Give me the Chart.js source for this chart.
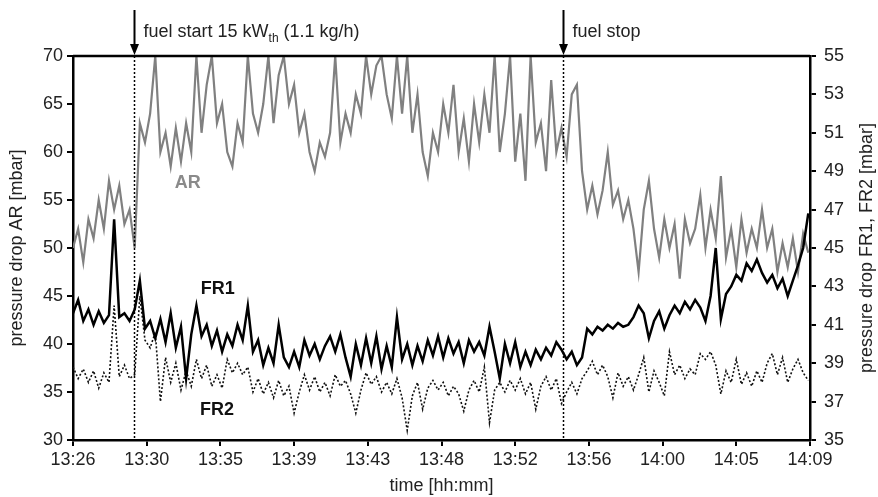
<!DOCTYPE html>
<html>
<head>
<meta charset="utf-8">
<script src="https://cdn.jsdelivr.net/npm/chart.js@4/dist/chart.umd.min.js"></script>
<style>
  html, body { margin: 0; padding: 0; background: #fff; }
  #wrap { width: 878px; height: 497px; }
</style>
</head>
<body>
<div id="wrap"><canvas id="pressureChart" width="878" height="497"></canvas></div>
<script>
// samples every 0.3 min starting at 13:26
const sampleStep = 0.3;

const tickMinutes = [0, 4.3, 8.6, 12.9, 17.2, 21.5, 25.8, 30.1, 34.4, 38.7, 43];
const tickLabels = ['13:26', '13:30', '13:35', '13:39', '13:43', '13:48', '13:52', '13:56', '14:00', '14:05', '14:09'];

// pressure drop AR [mbar], left axis
const arValues = [
  50, 52, 48.5, 53, 51, 55, 52, 57, 54, 56.5, 52.5, 54, 50, 63, 61, 64, 70, 60, 62, 58.5,
  62.5, 59, 63, 60, 70, 62, 67, 70, 63, 65, 60, 58.5, 63, 61, 70, 64, 62, 65, 70, 63,
  68, 70, 65, 67, 62, 64, 60, 58, 61, 59.5, 62, 70, 61, 64, 62, 66, 64, 70, 66, 69,
  70, 66, 63.5, 70, 64, 70, 62, 66, 60, 57.5, 62, 60, 65, 62, 67, 60, 63.5, 59, 65, 61,
  66, 62, 70, 60, 64, 70, 59, 64, 57, 70, 61, 63, 58, 67.5, 60, 62.5, 59.5, 66, 67, 58,
  54, 56.5, 53.5, 56, 60, 54.5, 56, 53, 55, 52, 47.5, 54, 57, 52, 49, 53, 50, 52.5, 46.8, 53,
  50.5, 52, 55.5, 50, 54, 51, 57.5, 49, 52, 48, 53, 49.5, 52, 50, 54, 50, 52, 47.5, 50.5, 48,
  51, 47.5, 51.5, 49.5
];

// pressure drop FR1 [mbar], right axis
const fr1Values = [
  41.6, 42.3, 41.2, 41.8, 41.0, 41.7, 41.1, 41.5, 46.5, 41.4, 41.6, 41.2, 41.8, 43.3, 40.8, 41.2, 40.3, 41.3, 40.1, 41.6,
  39.8, 40.9, 38.2, 40.5, 42.0, 40.4, 41.0, 39.9, 40.7, 39.6, 40.5, 39.9, 41.0, 40.2, 42.0, 39.6, 40.2, 38.9, 39.8, 39.0,
  41.0, 39.3, 38.8, 39.6, 38.8, 40.2, 39.4, 40.0, 39.2, 39.9, 40.4, 39.6, 40.5, 39.3, 38.3, 40.0, 38.9, 40.3, 39.0, 40.4,
  38.7, 39.9, 38.8, 41.4, 39.2, 40.0, 38.9, 39.9, 39.1, 40.2, 39.4, 40.4, 39.3, 40.3, 39.5, 40.1, 39.0, 40.2, 39.6, 40.1,
  39.4, 40.9, 39.6, 38.2, 40.0, 39.0, 40.1, 38.8, 39.6, 38.9, 39.7, 39.2, 39.8, 39.4, 40.1, 39.7, 39.2, 39.6, 38.9, 39.3,
  40.8, 40.5, 40.9, 40.7, 41.0, 40.8, 41.1, 40.9, 41.0, 41.4, 42.0, 41.6, 40.3, 41.2, 41.7, 40.8, 41.5, 42.0, 41.6, 42.2,
  41.8, 42.3, 41.9, 41.2, 42.5, 45.0, 41.3, 42.6, 43.0, 43.6, 43.3, 44.2, 43.8, 44.4, 43.7, 43.2, 43.6, 42.9, 43.4, 42.5,
  43.3, 44.1, 45.0, 46.8
];

// pressure drop FR2 [mbar], right axis
const fr2Values = [
  38.8, 38.2, 38.7, 38.0, 38.6, 37.7, 38.5, 38.0, 42.0, 38.3, 38.9, 38.2, 38.4, 42.5, 40.2, 39.8, 40.6, 37.0, 39.3, 38.0,
  39.0, 37.6, 38.6, 37.8, 39.2, 38.2, 38.9, 37.8, 38.4, 37.7, 39.2, 38.5, 39.0, 38.4, 38.8, 37.5, 38.2, 37.4, 38.0, 37.2,
  38.1, 37.3, 37.8, 36.4, 37.5, 38.4, 37.6, 38.3, 37.5, 38.0, 37.3, 38.4, 37.8, 38.1, 37.4, 36.4, 37.6, 38.5, 37.9, 38.3,
  37.5, 38.0, 37.4, 38.2, 37.2, 35.5, 37.3, 38.0, 36.6, 37.7, 38.1, 37.6, 38.0, 37.3, 37.8, 37.4, 36.5, 37.6, 38.1, 37.5,
  38.8, 35.9, 37.6, 38.0, 37.5, 38.1, 37.6, 38.2, 37.4, 38.0, 36.6, 37.8, 38.3, 37.6, 38.2, 36.9, 37.5, 38.0, 37.4, 38.2,
  38.6, 39.1, 38.4, 38.9, 38.3, 37.2, 38.5, 37.8, 38.3, 37.6, 38.4, 39.3, 37.5, 38.6, 38.0, 37.3, 39.6, 38.4, 38.9, 38.2,
  38.7, 38.4, 39.5, 39.2, 39.6, 38.9, 37.4, 38.6, 38.0, 39.2, 37.9, 38.5, 37.8, 38.6, 38.0, 39.0, 39.5, 38.4, 39.3, 38.0,
  38.7, 39.2, 38.5, 38.1
];

// fuel events in minutes after 13:26
const fuelStart = 3.56;
const fuelStop = 28.6;

const toPoints = values => values.map((v, i) => ({ x: i * sampleStep, y: v }));

const textColor = '#222';
const baseFont = { family: 'Liberation Sans, Arial, sans-serif', size: 18 };

const markerPlugin = {
  id: 'markers',
  afterDatasetsDraw(chart) {
    const { ctx, chartArea, scales } = chart;
    ctx.save();

    // top frame line
    ctx.strokeStyle = '#000';
    ctx.lineWidth = 2.5;
    ctx.beginPath();
    ctx.moveTo(chartArea.left, chartArea.top);
    ctx.lineTo(chartArea.right, chartArea.top);
    ctx.stroke();

    const events = [
      { t: fuelStart, parts: [['fuel start 15 kW', 18, 0], ['th', 12, 5], [' (1.1 kg/h)', 18, 0]] },
      { t: fuelStop, parts: [['fuel stop', 18, 0]] }
    ];
    events.forEach(ev => {
      const x = Math.round(scales.x.getPixelForValue(ev.t)) + 0.5;
      ctx.strokeStyle = '#000';
      ctx.fillStyle = '#000';
      ctx.lineWidth = 1.5;
      ctx.setLineDash([2, 2]);
      ctx.beginPath();
      ctx.moveTo(x, chartArea.top);
      ctx.lineTo(x, chartArea.bottom);
      ctx.stroke();
      ctx.setLineDash([]);

      // arrow
      ctx.lineWidth = 2;
      ctx.beginPath();
      ctx.moveTo(x, 10);
      ctx.lineTo(x, chartArea.top - 10);
      ctx.stroke();
      ctx.beginPath();
      ctx.moveTo(x - 4.5, chartArea.top - 12);
      ctx.lineTo(x + 4.5, chartArea.top - 12);
      ctx.lineTo(x, chartArea.top - 1);
      ctx.closePath();
      ctx.fill();

      let tx = x + 9;
      ctx.fillStyle = textColor;
      ctx.textBaseline = 'alphabetic';
      ctx.textAlign = 'left';
      ev.parts.forEach(([txt, size, drop]) => {
        ctx.font = size + 'px ' + baseFont.family;
        ctx.fillText(txt, tx, 37 + drop);
        tx += ctx.measureText(txt).width;
      });
    });

    // series labels
    const labels = [
      { text: 'AR', t: 6.7, v: 56.8, axis: 'yAR', color: '#8a8a8a' },
      { text: 'FR1', t: 8.45, v: 42.85, axis: 'yFR', color: '#111' },
      { text: 'FR2', t: 8.4, v: 36.55, axis: 'yFR', color: '#111' }
    ];
    ctx.font = 'bold 18px ' + baseFont.family;
    ctx.textAlign = 'center';
    ctx.textBaseline = 'middle';
    labels.forEach(l => {
      ctx.fillStyle = l.color;
      ctx.fillText(l.text, scales.x.getPixelForValue(l.t), scales[l.axis].getPixelForValue(l.v));
    });

    // right axis title, reading bottom to top like the left one
    ctx.fillStyle = textColor;
    ctx.font = '18px ' + baseFont.family;
    ctx.translate(scales.yFR.right - 11, (chartArea.top + chartArea.bottom) / 2);
    ctx.rotate(-Math.PI / 2);
    ctx.fillText('pressure drop FR1, FR2 [mbar]', 0, 0);
    ctx.restore();
  }
};

new Chart(document.getElementById('pressureChart'), {
  type: 'line',
  data: {
    datasets: [
      {
        label: 'FR1',
        data: toPoints(fr1Values),
        yAxisID: 'yFR',
        borderColor: '#000',
        borderWidth: 2.5,
        pointRadius: 0,
        tension: 0
      },
      {
        label: 'FR2',
        data: toPoints(fr2Values),
        yAxisID: 'yFR',
        borderColor: '#111',
        borderWidth: 1.6,
        borderDash: [2, 2],
        pointRadius: 0,
        tension: 0
      },
      {
        label: 'AR',
        data: toPoints(arValues),
        yAxisID: 'yAR',
        borderColor: '#808080',
        borderWidth: 2.2,
        pointRadius: 0,
        tension: 0
      }
    ]
  },
  options: {
    responsive: false,
    devicePixelRatio: 1,
    animation: false,
    events: [],
    layout: { padding: { top: 56, left: 0, right: 0, bottom: 0 } },
    plugins: { legend: { display: false }, tooltip: { enabled: false } },
    scales: {
      x: {
        type: 'linear',
        min: 0,
        max: 43,
        afterBuildTicks: scale => { scale.ticks = tickMinutes.map(v => ({ value: v })); },
        afterFit: scale => { scale.height = 57; },
        ticks: {
          autoSkip: false,
          maxRotation: 0,
          padding: 3,
          color: textColor,
          font: baseFont,
          callback: (value, index) => tickLabels[index]
        },
        grid: { drawOnChartArea: false, tickLength: 6, color: '#000', lineWidth: 2 },
        border: { color: '#000', width: 2.5 },
        title: { display: true, text: 'time [hh:mm]', color: textColor, font: baseFont, padding: { top: 8, bottom: 0 } }
      },
      yAR: {
        position: 'left',
        min: 30,
        max: 70,
        afterFit: scale => { scale.width = 73; },
        ticks: { stepSize: 5, padding: 4, color: textColor, font: baseFont },
        grid: { drawOnChartArea: false, tickLength: 6, color: '#000', lineWidth: 2 },
        border: { color: '#000', width: 2.5 },
        title: { display: true, text: 'pressure drop AR [mbar]', color: textColor, font: baseFont, padding: { top: 6, bottom: 0 } }
      },
      yFR: {
        position: 'right',
        min: 35,
        max: 55,
        afterFit: scale => { scale.width = 68; },
        ticks: { stepSize: 2, padding: 8, color: textColor, font: baseFont },
        grid: { drawOnChartArea: false, tickLength: 6, color: '#000', lineWidth: 2 },
        border: { color: '#000', width: 2.5 },
        title: { display: false }
      }
    }
  },
  plugins: [markerPlugin]
});
</script>
</body>
</html>
